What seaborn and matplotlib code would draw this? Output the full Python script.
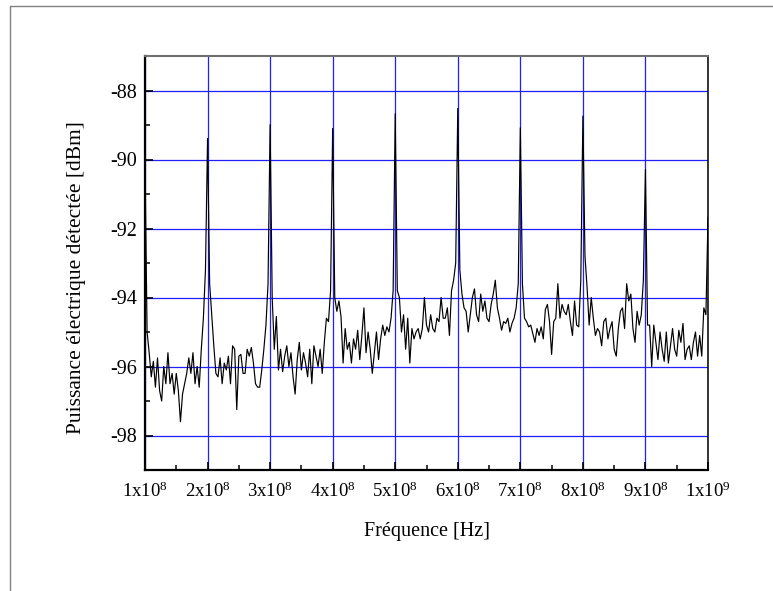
import numpy as np
import pandas as pd
import seaborn as sns
import matplotlib.pyplot as plt
from matplotlib.lines import Line2D
from matplotlib.ticker import MultipleLocator, FixedLocator

# niveau des pics, un tous les 1e8 Hz (de 1e8 a 1e9)
peaks_dbm = [-90.2, -89.39, -88.99, -89.1, -88.67, -88.52, -89.08, -88.74, -90.29, -91.67]

# 29 points de bruit entre deux pics successifs
noise_1 = [-95.0, -95.6, -96.3, -95.85, -96.6, -95.75, -96.7, -97.0, -96.0, -96.5,
           -95.6, -96.5, -96.2, -96.8, -96.2, -96.7, -97.6, -96.8, -96.5, -96.2,
           -95.75, -96.2, -95.6, -96.5, -96.0, -96.6, -95.5, -94.6, -93.2]
noise_2 = [-93.6, -94.5, -95.4, -96.2, -96.3, -95.75, -96.5, -95.9, -96.1, -95.7,
           -96.5, -95.4, -95.5, -97.25, -95.7, -95.65, -96.2, -96.2, -95.5, -95.7,
           -95.45, -95.9, -96.5, -96.6, -96.6, -96.1, -95.5, -94.8, -93.6]
noise_3 = [-94.0, -95.5, -94.55, -96.1, -95.5, -96.15, -95.7, -95.4, -96.0, -95.6,
           -96.3, -96.8, -95.8, -95.3, -96.1, -95.6, -95.9, -96.3, -95.5, -96.5,
           -95.4, -95.7, -96.0, -95.5, -96.2, -95.3, -94.6, -94.7, -93.8]
noise_4 = [-94.0, -94.4, -94.1, -94.55, -95.9, -94.9, -95.5, -95.3, -95.9, -95.2,
           -95.5, -94.95, -95.8, -95.1, -94.3, -95.6, -95.0, -95.5, -96.2, -95.6,
           -95.0, -95.8, -95.2, -94.8, -95.1, -94.85, -95.0, -94.6, -93.8]
noise_5 = [-93.8, -94.0, -95.0, -94.5, -95.5, -94.6, -95.9, -94.9, -95.2, -95.0,
           -94.9, -95.2, -94.9, -94.0, -94.8, -95.0, -94.5, -94.9, -95.0, -94.6,
           -94.7, -94.0, -94.6, -94.6, -94.3, -95.1, -93.8, -93.5, -93.0]
noise_6 = [-93.2, -93.9, -94.3, -94.4, -95.0, -94.5, -94.0, -93.75, -94.5, -94.7,
           -93.9, -94.4, -94.1, -94.6, -94.7, -94.2, -93.9, -93.5, -94.3, -94.6,
           -94.95, -94.7, -94.75, -94.6, -95.0, -94.75, -94.6, -94.3, -93.6]
noise_7 = [-93.6, -94.6, -94.7, -94.85, -94.8, -95.05, -95.3, -94.9, -95.1, -94.85,
           -95.2, -94.35, -94.2, -94.7, -95.65, -94.7, -94.6, -93.6, -94.6, -94.2,
           -94.4, -94.5, -94.2, -94.7, -95.1, -94.1, -94.8, -94.85, -93.5]
noise_8 = [-92.8, -93.7, -94.8, -94.0, -94.6, -95.1, -94.9, -95.0, -95.4, -94.7,
           -94.6, -95.2, -94.9, -94.7, -95.5, -95.7, -94.9, -94.4, -94.3, -94.9,
           -93.6, -94.1, -93.9, -94.9, -95.3, -94.4, -94.8, -94.5, -93.5]
noise_9 = [-94.8, -94.8, -96.0, -94.8, -95.3, -95.8, -95.0, -95.5, -95.85, -95.0,
           -95.9, -95.4, -94.9, -95.5, -95.7, -94.95, -95.3, -94.75, -95.8, -95.5,
           -95.4, -95.8, -95.3, -95.0, -95.7, -95.1, -95.7, -94.3, -94.5]

xtick_labels = ["1x10$^{8}$", "2x10$^{8}$", "3x10$^{8}$", "4x10$^{8}$", "5x10$^{8}$",
                "6x10$^{8}$", "7x10$^{8}$", "8x10$^{8}$", "9x10$^{8}$", "1x10$^{9}$"]
ytick_values = [-98, -96, -94, -92, -90, -88]

noise = [noise_1, noise_2, noise_3, noise_4, noise_5, noise_6, noise_7, noise_8, noise_9]
power = []
for i in range(9):
    power.append(peaks_dbm[i])
    power.extend(noise[i])
power.append(peaks_dbm[-1])
freq = np.linspace(1e8, 1e9, len(power))  # pas regulier de l'analyseur
df = pd.DataFrame({"freq": freq, "power": power})

sns.set_theme(style="white")
plt.rcParams['font.family'] = ['Liberation Serif', 'DejaVu Serif']
plt.rcParams['mathtext.fontset'] = 'custom'
plt.rcParams['mathtext.rm'] = 'Liberation Serif'
plt.rcParams['mathtext.it'] = 'Liberation Serif:italic'

fig = plt.figure(figsize=(7.73, 5.91), dpi=100, facecolor="white")
ax = fig.add_axes([145 / 773, 1 - 470 / 591, 563 / 773, 414 / 591])

sns.lineplot(data=df, x="freq", y="power", ax=ax, color="black", lw=0.85)

ax.set_xlim(1e8, 1e9)
ax.set_ylim(-99, -87)
ax.xaxis.set_major_locator(FixedLocator(np.arange(1, 11) * 1e8))
ax.set_xticklabels(xtick_labels)
ax.xaxis.set_minor_locator(MultipleLocator(5e7))
ax.yaxis.set_major_locator(FixedLocator(ytick_values))
ax.set_yticklabels([str(v) for v in ytick_values], fontsize=14.5)
ax.yaxis.set_minor_locator(MultipleLocator(1))

ax.grid(True, which="major", color="#1f1fff", lw=0.9)
ax.set_axisbelow(True)
ax.tick_params(which="major", direction="in", length=6, width=1.2, color="black",
               labelcolor="black", bottom=True, left=True, top=False, right=False)
ax.tick_params(axis="x", which="major", labelsize=13.5, pad=8)
ax.tick_params(axis="y", which="major", pad=6)
ax.tick_params(which="minor", direction="in", length=3.5, width=1.1, color="black",
               bottom=True, left=True, top=False, right=False)

for side in ["left", "bottom"]:
    ax.spines[side].set_color("black")
    ax.spines[side].set_linewidth(1.6)
ax.spines["top"].set_color("#707070")
ax.spines["top"].set_linewidth(1.5)
ax.spines["right"].set_color("black")
ax.spines["right"].set_linewidth(1.1)

ax.set_xlabel("Fréquence [Hz]", fontsize=14.5, color="black")
ax.set_ylabel("Puissance électrique détectée [dBm]", fontsize=15.5, color="black")
ax.xaxis.set_label_coords(0.5, -0.125)
ax.yaxis.set_label_coords((86 - 145) / 563, (470 - 278) / 414)

# cadre partiel autour de la figure
fig.add_artist(Line2D([10 / 773, 1], [1 - 6 / 591, 1 - 6 / 591], color="#808080", lw=1.0,
                      transform=fig.transFigure))
fig.add_artist(Line2D([10 / 773, 10 / 773], [0, 1 - 6 / 591], color="#808080", lw=1.0,
                      transform=fig.transFigure))

fig.savefig("out.png", dpi=100, facecolor="white")
